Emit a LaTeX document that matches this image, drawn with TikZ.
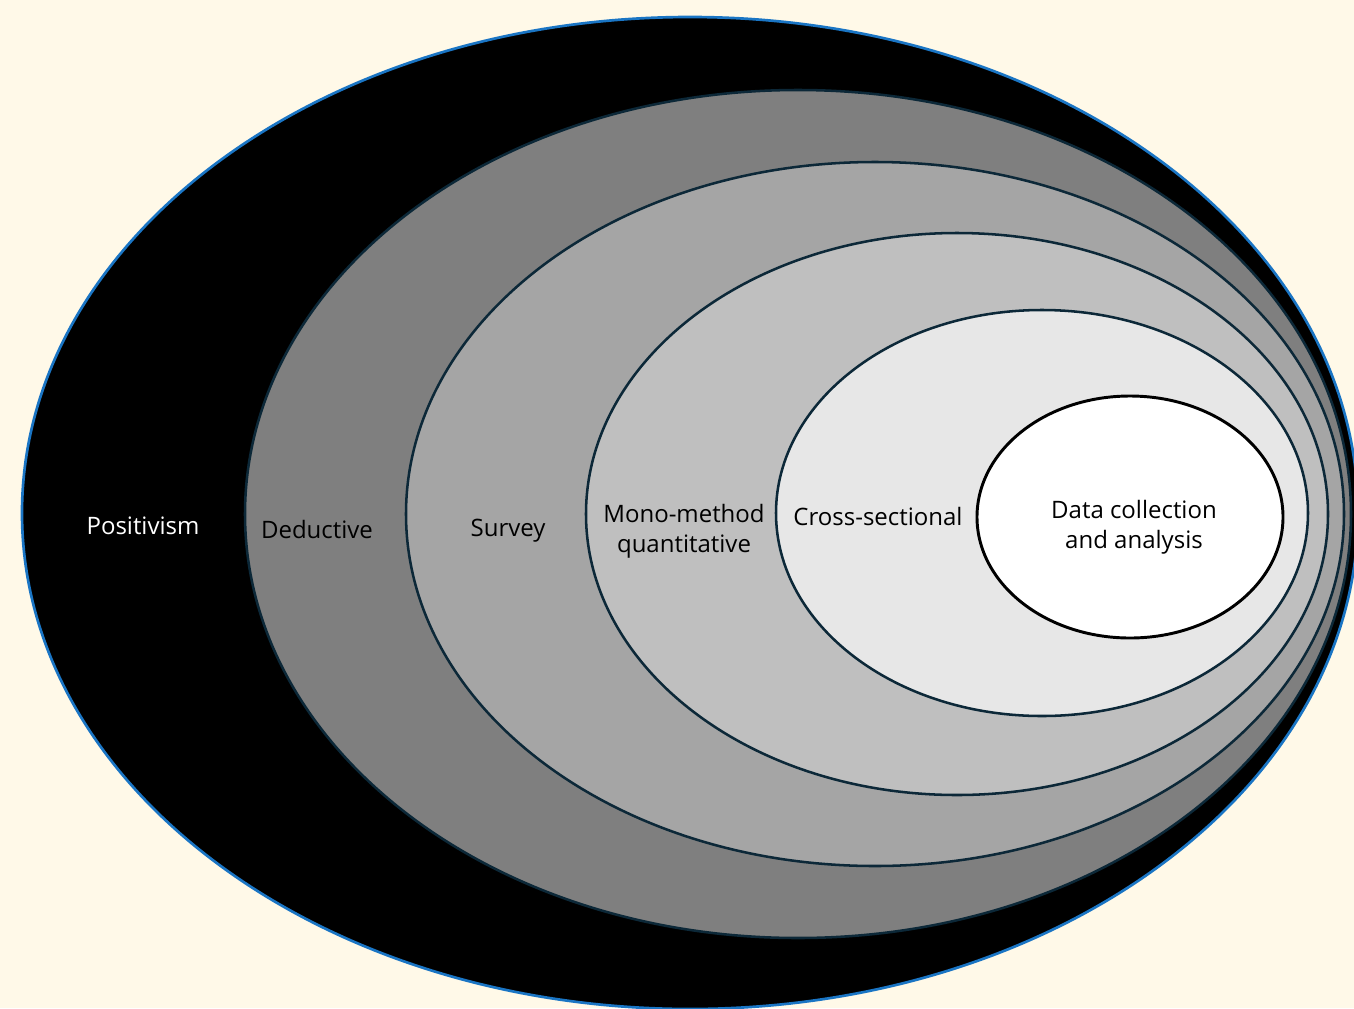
\documentclass[tikz,border=0pt]{standalone}
\usepackage{fontspec}
\setmainfont{Open Sans}
\definecolor{bgcream}{HTML}{FFF9E8}
\definecolor{rimblue}{HTML}{1A75C4}
\definecolor{rimnavy}{HTML}{0C2838}
\definecolor{ringA}{HTML}{000000}
\definecolor{ringB}{HTML}{7F7F7F}
\definecolor{ringC}{HTML}{A5A5A5}
\definecolor{ringD}{HTML}{BFBFBF}
\definecolor{ringE}{HTML}{E7E7E7}
\tikzset{
  ring/.style={draw=rimnavy, line width=1.9pt},
  lbl/.style={font=\fontsize{18}{22.5}\selectfont, align=center, inner sep=0pt},
}
\begin{document}
\begin{tikzpicture}[x=0.75pt,y=-0.75pt]
\useasboundingbox (0,0) rectangle (1354,1008);
\fill[bgcream] (0,0) rectangle (1354,1008);
\begin{scope}
\clip (0,0) rectangle (1354,1008);
\path[draw=rimblue, line width=2pt, fill=ringA] (690,513) ellipse [x radius=668, y radius=496];
\path[ring, fill=ringB] (798,514) ellipse [x radius=553, y radius=424];
\path[ring, fill=ringC] (875,514) ellipse [x radius=469, y radius=352];
\path[ring, fill=ringD] (957,514) ellipse [x radius=371, y radius=281];
\path[ring, fill=ringE] (1042,513) ellipse [x radius=266, y radius=203];
\path[draw=black, line width=2.2pt, fill=white] (1130,517) ellipse [x radius=153, y radius=121];
\end{scope}
\node[lbl, text=white] (positivism) at (143,526) {Positivism};
\node[lbl] (deductive) at (317,529) {Deductive};
\node[lbl] (survey) at (508,531) {Survey};
\node[lbl] (mono) at (684,531) {Mono-method\\quantitative};
\node[lbl] (cross) at (878,516) {Cross-sectional};
\node[lbl] (data) at (1134,527) {Data collection\\and analysis};
\end{tikzpicture}
\end{document}
